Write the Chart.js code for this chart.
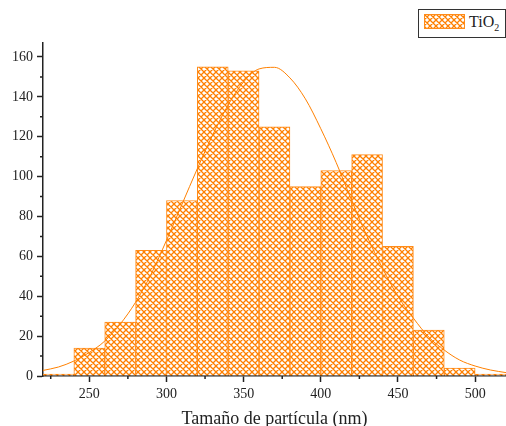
<!DOCTYPE html>
<html>
<head>
<meta charset="utf-8">
<script src="https://cdn.jsdelivr.net/npm/chart.js@4.4.1/dist/chart.umd.min.js"></script>
<style>
  body { margin: 0; background: #fff; }
  #wrap { position: relative; width: 506px; height: 426px; }
  #legend {
    position: absolute; left: 418px; top: 9px; width: 86px; height: 27px;
    border: 1px solid #333; background: #fff;
    font-family: "Liberation Serif", serif; font-size: 16px; color: #222;
  }
  #legend canvas { position: absolute; left: 5px; top: 4px; }
  #legend span { position: absolute; left: 50px; top: 3px; }
  #legend sub { font-size: 10px; }
</style>
</head>
<body>
<div id="wrap">
  <canvas id="histChart" width="506" height="426"></canvas>
  <div id="legend"><canvas id="swatch" width="41" height="15"></canvas><span>TiO<sub>2</sub></span></div>
</div>
<script>
// histogram bins (centre of each 20 nm bin) and counts
const binCenters = [230, 250, 270, 290, 310, 330, 350, 370, 390, 410, 430, 450, 470, 490, 510];
const counts = [1, 14, 27, 63, 88, 155, 153, 125, 95, 103, 111, 65, 23, 4, 1];

// fitted curve
const curveX = [220, 230, 240, 250, 260, 270, 280, 290, 300, 310, 320, 330, 340, 350, 360, 370,
                380, 390, 400, 410, 420, 430, 440, 450, 460, 470, 480, 490, 500, 510, 520];
const curveY = [2.8, 4.5, 7.5, 11.8, 17.5, 26, 37, 51, 68, 86, 104, 121, 136, 147.5, 154, 154.8,
                149.5, 139, 124, 107, 88, 70, 54, 40, 29, 19.5, 13, 8, 5, 3, 1.7];

const xTicks = [250, 300, 350, 400, 450, 500];
const xMinor = [225, 275, 325, 375, 425, 475];
const yTicks = [0, 20, 40, 60, 80, 100, 120, 140, 160];
const yMinor = [10, 30, 50, 70, 90, 110, 130, 150];

const orange = "#ff8000";
const axisColor = "#222";

function makeHatch(ctxTarget) {
    const c = document.createElement("canvas");
    c.width = 6; c.height = 6;
    const g = c.getContext("2d");
    g.fillStyle = "#fff";
    g.fillRect(0, 0, 6, 6);
    g.strokeStyle = orange;
    g.lineWidth = 1.3;
    g.beginPath();
    for (const dx of [-6, 0, 6]) {
        g.moveTo(dx, 0); g.lineTo(dx + 6, 6);
        g.moveTo(dx + 6, 0); g.lineTo(dx, 6);
    }
    g.stroke();
    return ctxTarget.createPattern(c, "repeat");
}

// legend swatch
const sw = document.getElementById("swatch").getContext("2d");
sw.fillStyle = makeHatch(sw);
sw.fillRect(0, 0, 41, 15);
sw.strokeStyle = "#ff8c1a";
sw.lineWidth = 1;
sw.strokeRect(0.5, 0.5, 40, 14);

// small ticks between the labelled ones
const minorTicks = {
    id: "minorTicks",
    afterDraw(chart) {
        const ctx = chart.ctx;
        const x = chart.scales.x, y = chart.scales.y;
        ctx.save();
        ctx.strokeStyle = axisColor;
        ctx.lineWidth = 1.5;
        ctx.beginPath();
        xMinor.forEach(v => {
            const px = x.getPixelForValue(v);
            ctx.moveTo(px, x.top);
            ctx.lineTo(px, x.top + 3);
        });
        yMinor.forEach(v => {
            const py = y.getPixelForValue(v);
            ctx.moveTo(y.right, py);
            ctx.lineTo(y.right - 3, py);
        });
        ctx.stroke();
        ctx.restore();
    }
};

Chart.defaults.font.family = "'Liberation Serif', serif";
Chart.defaults.color = axisColor;

const ctx = document.getElementById("histChart").getContext("2d");

new Chart(ctx, {
    type: "bar",
    data: {
        datasets: [{
            type: "line",
            label: "fit",
            data: curveX.map((v, i) => ({ x: v, y: curveY[i] })),
            borderColor: orange,
            borderWidth: 1,
            pointRadius: 0,
            tension: 0.4,
            cubicInterpolationMode: "monotone",
            fill: false,
            order: 0
        }, {
            label: "TiO2",
            data: binCenters.map((v, i) => ({ x: v, y: counts[i] })),
            backgroundColor: makeHatch(ctx),
            borderColor: "#ff8c1a",
            borderWidth: 1,
            barPercentage: 1,
            categoryPercentage: 1,
            order: 1
        }]
    },
    options: {
        responsive: false,
        animation: false,
        layout: { padding: { top: 43, right: 0, left: 0, bottom: 0 } },
        plugins: {
            legend: { display: false },
            tooltip: { enabled: false }
        },
        scales: {
            x: {
                type: "linear",
                offset: false,
                min: 220,
                max: 520,
                afterBuildTicks: s => { s.ticks = xTicks.map(v => ({ value: v })); },
                afterFit: s => { s.height = 50; },
                ticks: { font: { size: 14 }, padding: 4, maxRotation: 0 },
                grid: { drawOnChartArea: false, offset: false, tickLength: 6, tickColor: axisColor, tickWidth: 1.5 },
                border: { color: axisColor, width: 1.5 },
                title: {
                    display: true,
                    text: "Tamaño de partícula (nm)",
                    font: { size: 18, lineHeight: 0.8 },
                    padding: { top: 0, bottom: 0 }
                }
            },
            y: {
                min: 0,
                max: 167,
                afterBuildTicks: s => { s.ticks = yTicks.map(v => ({ value: v })); },
                afterFit: s => { s.width = 43; },
                ticks: { font: { size: 14 }, padding: 4 },
                grid: { drawOnChartArea: false, tickLength: 6, tickColor: axisColor, tickWidth: 1.5 },
                border: { color: axisColor, width: 1.5 }
            }
        }
    },
    plugins: [minorTicks]
});
</script>
</body>
</html>
